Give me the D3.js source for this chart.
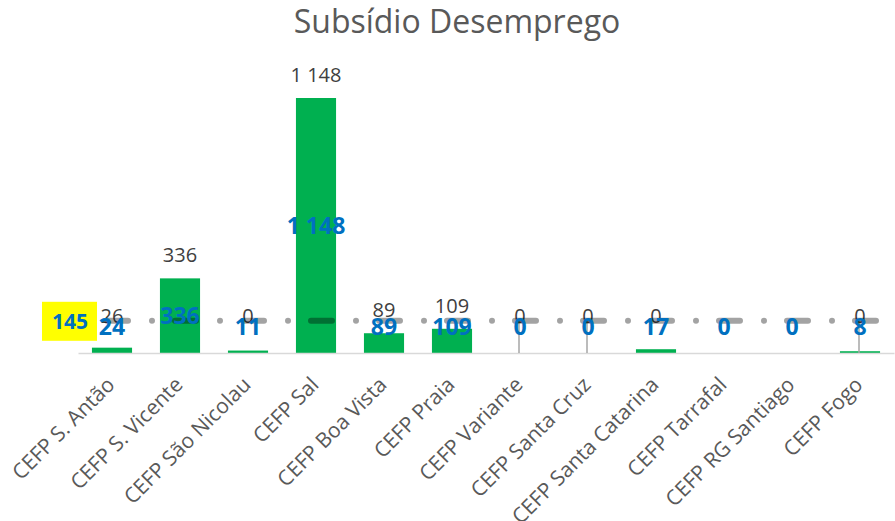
<!DOCTYPE html>
<html><head><meta charset="utf-8">
<script src="https://cdn.jsdelivr.net/npm/d3@7"></script>
<style>body{margin:0;background:#fff}svg{display:block}</style></head>
<body>
<svg id="chart" width="895" height="521"></svg>
<script>
const categories = ["CEFP S. Antão","CEFP S. Vicente","CEFP São Nicolau","CEFP Sal","CEFP Boa Vista","CEFP Praia","CEFP Variante","CEFP Santa Cruz","CEFP Santa Catarina","CEFP Tarrafal","CEFP RG Santiago","CEFP Fogo"];
const values = [24,336,11,1148,89,109,0,0,17,0,0,8];
const outerLabels = ["26","336","0","1 148","89","109","0","0","0","","","0"];
const averageValue = 145;
const averageLabel = "145";
const dropLineFlags = [0,0,0,0,0,0,1,1,0,0,0,1];
const titleText = "Subsídio Desemprego";

const svg = d3.select("#chart");
const font = "'Open Sans', sans-serif";

const x = d3.scaleBand().domain(categories).range([78, 894]).paddingInner(0.41).paddingOuter(0.205);
const y = d3.scaleLinear().domain([0, 1148]).range([353, 98]);
const cx = c => x(c) + x.bandwidth()/2;

// title
svg.append("text").attr("x", 457).attr("y", 33).attr("text-anchor","middle")
  .attr("font-family", font).attr("font-size", 32).attr("fill","#595959").text(titleText);

// bars
svg.append("g").selectAll("rect").data(categories).join("rect")
  .attr("x", d => x(d)).attr("width", x.bandwidth())
  .attr("y", (d,i) => y(values[i])).attr("height", (d,i) => y(0) - y(values[i]))
  .attr("fill", "#00B050");

// axis
const ax = svg.append("g").attr("transform", `translate(0,${y(0)})`)
  .call(d3.axisBottom(x).tickSize(0).tickFormat(""));
ax.select(".domain").attr("stroke", "#D9D9D9").attr("stroke-width", 1.5);

// category labels
svg.append("g").selectAll("text").data(categories).join("text")
  .attr("transform", d => `translate(${cx(d)+4},${y(0)+33}) rotate(-45)`)
  .attr("text-anchor","end").attr("font-family", font).attr("font-size", 21)
  .attr("fill","#595959").text(d => d);

// drop lines
svg.append("g").selectAll("line").data(categories.filter((d,i) => dropLineFlags[i]))
  .join("line").attr("x1", d => cx(d)-1).attr("x2", d => cx(d)-1)
  .attr("y1", y(averageValue)).attr("y2", y(0))
  .attr("stroke", "#A6A6A6").attr("stroke-width", 1.5);

// outer (dark) labels
svg.append("g").selectAll("text").data(categories).join("text")
  .attr("x", d => cx(d)).attr("y", (d,i) => Math.min(y(values[i]) - 23, y(averageValue) - 5))
  .attr("dy","0.35em").attr("text-anchor","middle").attr("font-family", font)
  .attr("font-size", 20).attr("fill","#404040").text((d,i) => outerLabels[i]);

// average line
const first = categories[0], last = categories[categories.length-1];
svg.append("path")
  .attr("d", d3.line()([[cx(first)-5, y(averageValue)], [cx(last)+16, y(averageValue)]]))
  .attr("fill","none").attr("stroke","#000").attr("stroke-opacity",0.36)
  .attr("stroke-width",6).attr("stroke-linecap","round")
  .attr("stroke-dasharray","21 24 0 23");

// value (blue) labels
svg.append("g").selectAll("text").data(categories).join("text")
  .attr("x", d => cx(d)).attr("y", (d,i) => Math.min((y(values[i]) + y(0))/2, y(averageValue) + 6))
  .attr("dy","0.35em").attr("text-anchor","middle").attr("font-family", font)
  .attr("font-size", 23).attr("font-weight","bold").attr("fill","#0070C0")
  .text((d,i) => d3.format(",")(values[i]).replace(/,/g, " "));

// average label box
const bx = cx(first) - 15, by = y(averageValue);
svg.append("rect").attr("x", bx - 55).attr("y", by - 19).attr("width", 55).attr("height", 39).attr("fill","#FFFF00");
svg.append("text").attr("x", bx - 27).attr("y", by + 1).attr("dy","0.35em").attr("text-anchor","middle")
  .attr("font-family", font).attr("font-size", 21).attr("font-weight","bold").attr("fill","#0070C0").text(averageLabel);
</script>
</body></html>
